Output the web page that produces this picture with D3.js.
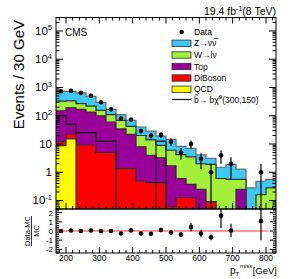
<!DOCTYPE html>
<html><head><meta charset="utf-8">
<script src="https://cdn.jsdelivr.net/npm/d3@7"></script>
<style>body{margin:0;background:#fff}svg{font-family:"Liberation Sans",Arial,sans-serif}</style>
</head><body><svg id="c" width="291" height="279"></svg>
<script>
// ---- data (bins of 30 GeV, lower edges) ----
const binLow = [170,200,230,260,290,320,350,380,410,440,470,500,530,560,590,620,650,680,710,740,770,800];
const binWidth = 30;
const qcd     = [8.7,15,0,0,0,0,0,0,0,0,0,0,0,0,0,0,0,0,0,0,0,0];
const diboson = [3.3,7.6,9.2,9.2,5,5,1.35,1.35,0.49,0.43,0.43,0.06,0.125,0.125,0,0.09,0,0,0,0,0,0];
const topq    = [138,167.4,160.8,125.8,95,55,32.65,20.65,7.51,3.57,2.77,1.64,0.475,0.245,0.25,0,0,0,0.25,0,0,0];
const wjets   = [180,145,98,85,55,50,34,20,12,10,5.8,4.3,3.6,3.13,1.75,1.81,0.6,0.56,0.31,0,0.16,0.28];
const zjets   = [408,390,378,262,144,58,42,27,20,14.6,10,8.5,4.1,3.5,2.1,1.2,0.9,1.34,0.74,0.28,0.32,0.28];
const dataN   = [738,762,646,506,299,168,80,74,29,20,21,12,5,10,3,1,4,2,0,0,1,0];
const dataErr = [27.2,27.6,25.4,22.5,17.3,13.0,8.9,8.6,5.4,4.5,4.6,3.5,2.2,3.2,1.7,1,2,1.4,0,0,1,0];
const signal  = [100,50,25,25,12.5,12.5,0,0,0,0,12.5,0,0,0,0,0,0,0,0,0,0,0];
const yTickExp = [-1,0,1,2,3,4,5];
const xTicks = [200,300,400,500,600,700,800];
const rTicks = [-2,-1,0,1,2];
const legendNames = ["Data","Z\u2192\u03BD\u03BD\u0305","W\u2192l\u03BD","Top","DiBoson","QCD"];
const colors = {z:"#3ec8f4", w:"#a2f03a", top:"#990099", db:"#ff0000", qcd:"#ffff00"};

const svg = d3.select("#c");
const L=56, R=276, T=17.5, MB=209, RB=253;
const x = d3.scaleLinear().domain([170,830]).range([L,R]);
const y = d3.scaleLog().domain([0.05,3e5]).range([MB,T]);
const yr = d3.scaleLinear().domain([-2.4,2.4]).range([RB,MB]);

svg.append("clipPath").attr("id","cp").append("rect").attr("x",L).attr("y",T).attr("width",R-L).attr("height",MB-T);
const g = svg.append("g").attr("clip-path","url(#cp)");

const n = binLow.length;
const cum = [];
let run = new Array(n).fill(0);
const layers = [["qcd",qcd],["db",diboson],["top",topq],["w",wjets],["z",zjets]];
layers.forEach(([k,arr])=>{ run = run.map((v,i)=>v+arr[i]); cum.push([k,run.slice()]); });

function stepPts(vals){
  const pts = vals.map((v,i)=>[binLow[i], v]);
  pts.push([binLow[n-1]+binWidth, vals[n-1]]);
  return pts;
}
const ymin = 0.01;
const area = d3.area().curve(d3.curveStepAfter).x(d=>x(d[0])).y0(MB+5).y1(d=>y(Math.max(d[1],ymin)));
const line = d3.line().curve(d3.curveStepAfter).x(d=>x(d[0])).y(d=>y(Math.max(d[1],ymin)));
cum.slice().reverse().forEach(([k,vals])=>{
  const pts = stepPts(vals);
  g.append("path").attr("d",area(pts)).attr("fill",colors[k]);
  g.append("path").attr("d",line(pts)).attr("fill","none").attr("stroke", k==="z"?"#6a6a6a":"#303030").attr("stroke-width",1.2);
});
// signal
g.append("path").attr("d",line(stepPts(signal))).attr("fill","none").attr("stroke","#202020").attr("stroke-width",1.3);

// data points
const total = cum[cum.length-1][1];
dataN.forEach((v,i)=>{
  if(v<=0) return;
  const cx = x(binLow[i]+binWidth/2);
  g.append("line").attr("x1",cx).attr("x2",cx).attr("y1",y(v+dataErr[i])).attr("y2",y(Math.max(v-dataErr[i],ymin))).attr("stroke","#000").attr("stroke-width",1.2);
  g.append("circle").attr("cx",cx).attr("cy",y(v)).attr("r",2.3).attr("fill","#000");
});

// frames
svg.append("rect").attr("x",L).attr("y",T).attr("width",R-L).attr("height",MB-T).attr("fill","none").attr("stroke","#000").attr("stroke-width",1);
svg.append("rect").attr("x",L).attr("y",MB).attr("width",R-L).attr("height",RB-MB).attr("fill","none").attr("stroke","#000").attr("stroke-width",1);

// y log ticks
const ta = svg.append("g").attr("stroke","#000").attr("stroke-width",1);
for(let e=-2;e<=5;e++){
  for(let m=1;m<=9;m++){
    const v=m*Math.pow(10,e);
    if(v<0.05||v>3e5) continue;
    const yy=y(v), len=m===1?7:3.5;
    ta.append("line").attr("x1",L).attr("x2",L+len).attr("y1",yy).attr("y2",yy);
    ta.append("line").attr("x1",R).attr("x2",R-len).attr("y1",yy).attr("y2",yy);
  }
}
// x ticks
for(let v=180; v<=830; v+=20){
  const xx=x(v), major = v%100===0, len=major?6:3;
  ta.append("line").attr("x1",xx).attr("x2",xx).attr("y1",MB).attr("y2",MB-len);
  ta.append("line").attr("x1",xx).attr("x2",xx).attr("y1",T).attr("y2",T+len);
  ta.append("line").attr("x1",xx).attr("x2",xx).attr("y1",RB).attr("y2",RB-len);
}
// ratio ticks
for(let v=-2.4; v<=2.41; v+=0.2){
  const vv=Math.round(v*10)/10; if(Math.abs(vv)>2.4) continue;
  const major=Math.abs(vv-Math.round(vv))<1e-6, len=major?6:3, yy=yr(vv);
  ta.append("line").attr("x1",L).attr("x2",L+len).attr("y1",yy).attr("y2",yy);
  ta.append("line").attr("x1",R).attr("x2",R-len).attr("y1",yy).attr("y2",yy);
}

// y labels
yTickExp.forEach(e=>{
  const yy=y(Math.pow(10,e));
  const t=svg.append("text").attr("x",52).attr("y",yy+4).attr("text-anchor","end").attr("font-size",11.5);
  if(e===0){t.text("1");} else if(e===1){t.text("10");}
  else { t.append("tspan").text("10"); t.append("tspan").attr("font-size",7.5).attr("dy",-4.5).text(e); }
});
rTicks.forEach(v=>{
  svg.append("text").attr("x",53).attr("y",yr(v)+3).attr("text-anchor","end").attr("font-size",8).text(v);
});
xTicks.forEach(v=>{
  svg.append("text").attr("x",x(v)).attr("y",261).attr("text-anchor","middle").attr("font-size",8.5).text(v);
});

// ratio
svg.append("line").attr("x1",L).attr("x2",x(805)).attr("y1",yr(0)).attr("y2",yr(0)).attr("stroke","#ff3030").attr("stroke-width",1);
const rg = svg.append("g");
svg.append("clipPath").attr("id","cpr").append("rect").attr("x",L).attr("y",MB).attr("width",R-L).attr("height",RB-MB);
rg.attr("clip-path","url(#cpr)");
dataN.forEach((v,i)=>{
  if(v<=0) return;
  const mc = total[i], r=(v-mc)/mc, er=dataErr[i]/mc, cx=x(binLow[i]+binWidth/2);
  rg.append("line").attr("x1",cx).attr("x2",cx).attr("y1",yr(r+er)).attr("y2",yr(r-er)).attr("stroke","#000").attr("stroke-width",1.2);
  rg.append("circle").attr("cx",cx).attr("cy",yr(r)).attr("r",2.3).attr("fill","#000");
});

// titles
svg.append("text").attr("x",276).attr("y",15).attr("text-anchor","end").attr("font-size",10.5)
  .html('19.4 fb<tspan font-size="7" dy="-4">-1</tspan><tspan dy="4">(8 TeV)</tspan>');
svg.append("text").attr("x",65).attr("y",36).attr("font-size",10).text("CMS");
svg.append("text").attr("transform","translate(24,20) rotate(-90)").attr("text-anchor","end").attr("font-size",15).text("Events / 30 GeV");
const rt = svg.append("g").attr("transform","translate(31.5,231) rotate(-90)");
rt.append("text").attr("x",0).attr("y",-1.5).attr("text-anchor","middle").attr("font-size",7.5).text("Data-MC");
rt.append("line").attr("x1",-15).attr("x2",15).attr("y1",0).attr("y2",0).attr("stroke","#000").attr("stroke-width",0.8);
rt.append("text").attr("x",0).attr("y",7).attr("text-anchor","middle").attr("font-size",7.5).text("MC");
// x title p_T^miss [GeV]
svg.append("text").attr("x",230).attr("y",273.5).attr("font-size",10).text("p");
svg.append("text").attr("x",235.6).attr("y",276).attr("font-size",6).text("T");
svg.append("text").attr("x",240).attr("y",268).attr("font-size",6).text("miss");
svg.append("text").attr("x",277).attr("y",273.5).attr("text-anchor","end").attr("font-size",9.5).text("[GeV]");

// legend
const lx=172, lw=19, rows=[32,43.3,55,66.5,78,89.3,99.5];
const lg = svg.append("g").attr("font-size",8.5);
lg.append("circle").attr("cx",181.7).attr("cy",rows[0]).attr("r",2.2);
lg.append("text").attr("x",194).attr("y",rows[0]+3).text(legendNames[0]);
const lcols=[colors.z,colors.w,colors.top,colors.db,colors.qcd];
lcols.forEach((c,i)=>{
  lg.append("rect").attr("x",lx).attr("y",rows[i+1]-3.2).attr("width",lw).attr("height",6.4).attr("fill",c).attr("stroke","#303030").attr("stroke-width",0.8);
  lg.append("text").attr("x",194).attr("y",rows[i+1]+3).text(legendNames[i+1]);
});
lg.append("line").attr("x1",lx).attr("x2",lx+lw).attr("y1",rows[6]).attr("y2",rows[6]).attr("stroke","#202020").attr("stroke-width",1.3);
lg.append("text").attr("x",194).attr("y",rows[6]+3).html('b\u0303\u2192 b\u03C7\u0303<tspan font-size="6" dy="-3.5">0</tspan><tspan dy="3.5">(300,150)</tspan>');
</script></body></html>
